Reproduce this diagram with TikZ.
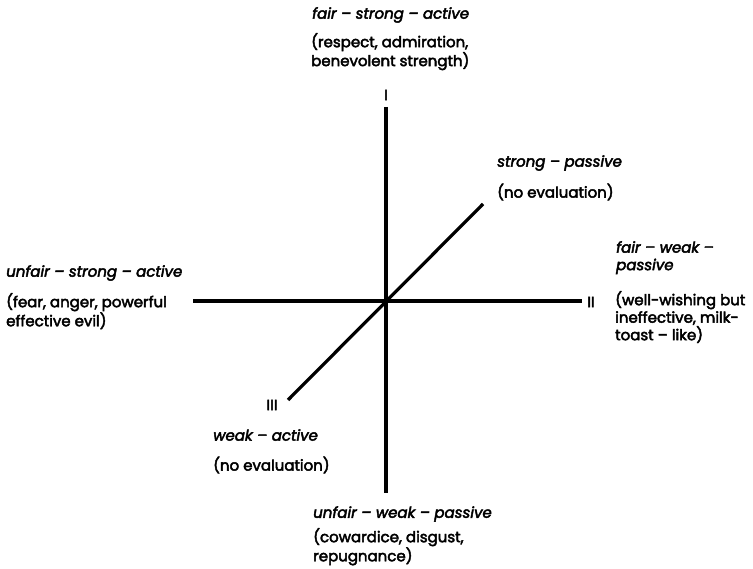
\documentclass[tikz,border=0pt]{standalone}
\usepackage{fontspec}
\setmainfont{Poppins}[FakeBold=3]
\usetikzlibrary{positioning}

\begin{document}
\begin{tikzpicture}[x=1pt, y=-1pt,
				axis/.style={
					line width=3.2pt,
					draw=black
				},
				head/.style={
					inner sep=0pt,
					align=left,
					font=\itshape\fontsize{15}{17.5}\selectfont
				},
				desc/.style={
					inner sep=0pt,
					align=left,
					font=\fontsize{15}{17.5}\selectfont
				},
				numeral/.style={
					inner sep=0pt,
					font=\fontsize{15}{17.5}\selectfont
				}
				]
				
				% Frame
				\useasboundingbox (0,0) rectangle (753,569);
				
				% Axes
				\coordinate (top) at (386,107);
				\coordinate (bottom) at (386,493);
				\coordinate (left) at (193,301);
				\coordinate (right) at (582,301);
				\coordinate (upper) at (483,204);
				\coordinate (lower) at (288,400);
				\draw[axis] (top) -- (bottom);
				\draw[axis] (left) -- (right);
				\draw[axis] (lower) -- (upper);
				
				% Axis numbers
				\node[numeral] (one) at (386,95) {I};
				\node[numeral] (two) at (591,302) {II};
				\node[numeral] (three) at (272,405) {III};
				
				% Top
				\node[head, anchor=west] (fsa) at (312,15) {fair -- strong -- active};
				\node[desc, anchor=north west] (fsaText) at (311,33)
				{(respect, admiration,\\ benevolent strength)};
				
				% Upper right
				\node[head, anchor=west] (sp) at (497,163) {strong -- passive};
				\node[desc, anchor=west] (spText) at (497,192) {(no evaluation)};
				
				% Left
				\node[head, anchor=west] (usa) at (6,273) {unfair -- strong -- active};
				\node[desc, anchor=north west] (usaText) at (6,293)
				{(fear, anger, powerful\\ effective evil)};
				
				% Right
				\node[head, anchor=north west] (fwp) at (616,241)
				{fair -- weak --\\ passive};
				\node[desc, anchor=north west] (fwpText) at (615,291)
				{(well-wishing but\\ ineffective, milk-\\ toast -- like)};
				
				% Lower left
				\node[head, anchor=west] (wa) at (213,435) {weak -- active};
				\node[desc, anchor=west] (waText) at (213,465) {(no evaluation)};
				
				% Bottom
				\node[head, anchor=west] (uwp) at (313,514) {unfair -- weak -- passive};
				\node[desc, anchor=north west] (uwpText) at (313,528)
				{(cowardice, disgust,\\ repugnance)};
				
			\end{tikzpicture}
\end{document}
